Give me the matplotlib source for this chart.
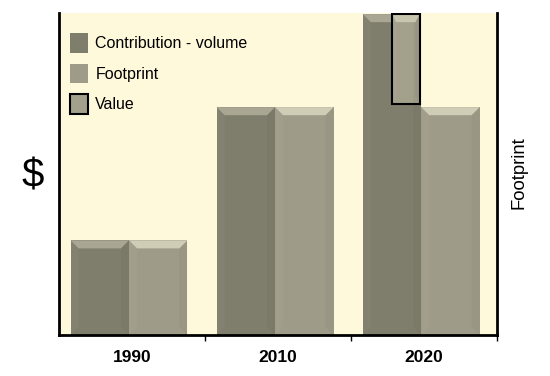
import numpy as np
import matplotlib.pyplot as plt
from matplotlib.patches import Polygon, Patch

plt.rcParams['font.family'] = ['Liberation Sans', 'DejaVu Sans']

# data
years = ['1990', '2010', '2020']
contribution = [2.95, 7.1, 10.0]
footprint = [2.95, 7.1, 7.1]
value_bottom = [None, None, 7.2]
value_top = [None, None, 10.0]

dark = '#7f7d6c'
light = '#9e9c88'
bg = '#fff9dc'


def bevel_bar(ax, x0, w, y0, y1, color, top_color, bx=0.055, by=0.25):
    ax.add_patch(plt.Rectangle((x0, y0), w, y1 - y0, facecolor=color, edgecolor='none', zorder=2))
    # top strip
    ax.add_patch(Polygon([(x0, y1), (x0 + w, y1), (x0 + w - bx, y1 - by), (x0 + bx, y1 - by)],
                         closed=True, facecolor=top_color, edgecolor='none', zorder=3))
    # left side, slightly lighter
    ax.add_patch(Polygon([(x0, y1), (x0 + bx, y1 - by), (x0 + bx, y0 + by), (x0, y0)],
                         closed=True, facecolor='white', edgecolor='none', alpha=0.03, zorder=3))
    # right side, slightly darker
    ax.add_patch(Polygon([(x0 + w, y1), (x0 + w - bx, y1 - by), (x0 + w - bx, y0 + by), (x0 + w, y0)],
                         closed=True, facecolor='black', edgecolor='none', alpha=0.03, zorder=3))


fig = plt.figure(figsize=(5.5, 3.76), dpi=100)
ax = fig.add_axes([0.107, 0.109, 0.797, 0.856])
ax.set_facecolor(bg)

x = np.arange(len(years))
w = 0.4
for i in range(len(years)):
    bevel_bar(ax, x[i] - 0.42, w, 0, contribution[i], dark, '#a9a794')
    bevel_bar(ax, x[i] - 0.02, w, 0, footprint[i], light, '#cfcdb6')
    if value_top[i] is not None:
        bevel_bar(ax, x[i] - 0.22, 0.19, value_bottom[i], value_top[i], '#a3a18c', '#c8c6af', bx=0.03)
        ax.add_patch(plt.Rectangle((x[i] - 0.22, value_bottom[i]), 0.19, value_top[i] - value_bottom[i],
                                   facecolor='none', edgecolor='black', linewidth=1.5, zorder=4))

ax.set_xlim(-0.5, 2.5)
ax.set_ylim(0, 10.03)

ax.spines['top'].set_visible(False)
for s in ['left', 'bottom', 'right']:
    ax.spines[s].set_linewidth(2)
    ax.spines[s].set_color('black')

ax.set_yticks([])
ax.set_xticks(x)
ax.set_xticklabels(years, fontsize=12.5, fontweight='bold')
ax.tick_params(axis='x', which='major', length=0, pad=11)
ax.set_xticks([0.5, 1.5, 2.5], minor=True)
ax.tick_params(axis='x', which='minor', length=4, width=1, direction='out')

fig.text(0.06, 0.53, '$', fontsize=29, ha='center', va='center')
fig.text(0.944, 0.54, 'Footprint', rotation=90, fontsize=13.3, ha='center', va='center')

handles = [Patch(facecolor=dark, edgecolor='none'),
           Patch(facecolor=light, edgecolor='none'),
           Patch(facecolor='#a3a18c', edgecolor='black', linewidth=1.5)]
ax.legend(handles, ['Contribution - volume', 'Footprint', 'Value'], loc='upper left',
          bbox_to_anchor=(0.025, 0.937), frameon=False, fontsize=11.5, borderpad=0, borderaxespad=0,
          handlelength=1.15, handleheight=1.5, labelspacing=0.68, handletextpad=0.45)

fig.savefig('out.png', dpi=100)
